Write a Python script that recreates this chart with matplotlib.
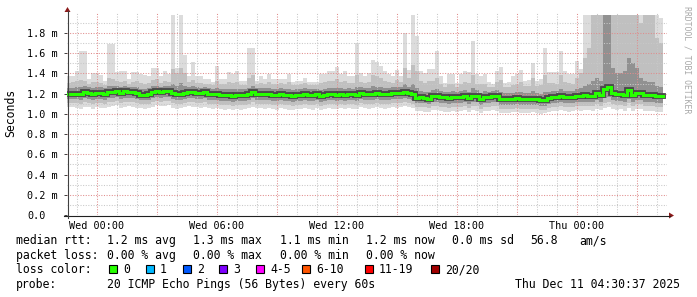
import numpy as np
import matplotlib
matplotlib.use('Agg')
import matplotlib.pyplot as plt
from matplotlib.patches import Rectangle, Polygon
from matplotlib.transforms import Affine2D

W, H = 697, 297
MONO = 'DejaVu Sans Mono'

# 12-minute bins starting Tue 22:30 (hours relative to Wed 00:00)
t_start = -1.5
t_step = 0.2

rtt_median = [
    1.20, 1.20, 1.20, 1.20, 1.22, 1.21, 1.20, 1.21, 1.21, 1.20,
    1.22, 1.22, 1.23, 1.21, 1.23, 1.22, 1.22, 1.21, 1.19, 1.19,
    1.20, 1.22, 1.23, 1.22, 1.23, 1.23, 1.21, 1.20, 1.20, 1.21,
    1.22, 1.22, 1.21, 1.21, 1.22, 1.20, 1.20, 1.20, 1.19, 1.19,
    1.19, 1.18, 1.19, 1.19, 1.19, 1.20, 1.22, 1.20, 1.20, 1.20,
    1.20, 1.19, 1.19, 1.20, 1.19, 1.19, 1.18, 1.19, 1.19, 1.20,
    1.19, 1.19, 1.20, 1.18, 1.19, 1.20, 1.20, 1.19, 1.20, 1.19,
    1.20, 1.20, 1.19, 1.21, 1.20, 1.20, 1.20, 1.21, 1.20, 1.20,
    1.20, 1.21, 1.21, 1.21, 1.22, 1.21, 1.20, 1.16, 1.17, 1.16,
    1.15, 1.18, 1.18, 1.17, 1.17, 1.16, 1.17, 1.17, 1.17, 1.18,
    1.16, 1.18, 1.18, 1.15, 1.17, 1.17, 1.18, 1.18, 1.15, 1.15,
    1.15, 1.15, 1.16, 1.15, 1.15, 1.15, 1.15, 1.15, 1.14, 1.14,
    1.16, 1.17, 1.17, 1.18, 1.17, 1.17, 1.17, 1.18, 1.18, 1.19,
    1.18, 1.18, 1.21, 1.19, 1.25, 1.27, 1.21, 1.20, 1.20, 1.19,
    1.24, 1.19, 1.21, 1.21, 1.19, 1.19, 1.19, 1.18, 1.18,
]

rtt_max = [
    1.37, 1.37, 1.42, 1.62, 1.62, 1.35, 1.40, 1.40, 1.38, 1.33,
    1.69, 1.69, 1.41, 1.42, 1.42, 1.35, 1.41, 1.41, 1.39, 1.38,
    1.37, 1.45, 1.45, 1.37, 1.42, 1.39, 1.98, 1.45, 1.98, 1.58,
    1.37, 1.51, 1.37, 1.37, 1.35, 1.35, 1.32, 1.47, 1.35, 1.35,
    1.41, 1.39, 1.42, 1.33, 1.33, 1.65, 1.65, 1.33, 1.37, 1.35,
    1.39, 1.35, 1.35, 1.35, 1.35, 1.39, 1.32, 1.33, 1.33, 1.36,
    1.32, 1.32, 1.32, 1.39, 1.39, 1.42, 1.42, 1.46, 1.39, 1.42,
    1.37, 1.37, 1.70, 1.40, 1.37, 1.40, 1.53, 1.51, 1.47, 1.42,
    1.39, 1.37, 1.43, 1.37, 1.80, 1.43, 1.98, 1.77, 1.42, 1.40,
    1.44, 1.44, 1.62, 1.37, 1.31, 1.39, 1.39, 1.31, 1.39, 1.42,
    1.41, 1.72, 1.39, 1.37, 1.39, 1.32, 1.30, 1.42, 1.46, 1.31,
    1.32, 1.37, 1.39, 1.43, 1.33, 1.34, 1.50, 1.33, 1.35, 1.65,
    1.41, 1.41, 1.41, 1.62, 1.42, 1.39, 1.39, 1.52, 1.44, 1.98,
    1.98, 1.98, 1.98, 1.98, 1.98, 1.98, 1.98, 1.98, 1.98, 1.98,
    1.98, 1.98, 1.98, 1.98, 1.98, 1.98, 1.98, 1.98, 1.95,
]

rtt_hi2 = [
    1.31, 1.32, 1.33, 1.34, 1.33, 1.30, 1.32, 1.32, 1.31, 1.29,
    1.36, 1.35, 1.33, 1.32, 1.33, 1.30, 1.32, 1.33, 1.31, 1.30,
    1.31, 1.34, 1.35, 1.31, 1.33, 1.32, 1.44, 1.40, 1.45, 1.40,
    1.32, 1.34, 1.31, 1.31, 1.30, 1.30, 1.29, 1.33, 1.30, 1.30,
    1.32, 1.31, 1.32, 1.29, 1.29, 1.36, 1.38, 1.30, 1.31, 1.30,
    1.32, 1.30, 1.30, 1.31, 1.30, 1.32, 1.29, 1.29, 1.30, 1.31,
    1.29, 1.29, 1.29, 1.31, 1.32, 1.33, 1.33, 1.35, 1.32, 1.33,
    1.31, 1.31, 1.38, 1.32, 1.31, 1.32, 1.38, 1.37, 1.36, 1.33,
    1.32, 1.31, 1.34, 1.32, 1.45, 1.36, 1.48, 1.42, 1.33, 1.31,
    1.33, 1.33, 1.36, 1.30, 1.27, 1.30, 1.30, 1.27, 1.30, 1.32,
    1.31, 1.38, 1.30, 1.30, 1.30, 1.27, 1.27, 1.32, 1.34, 1.27,
    1.27, 1.29, 1.30, 1.32, 1.28, 1.28, 1.36, 1.28, 1.29, 1.38,
    1.31, 1.31, 1.30, 1.38, 1.32, 1.31, 1.30, 1.36, 1.40, 1.55,
    1.65, 1.98, 1.98, 1.98, 1.98, 1.98, 1.98, 1.98, 1.98, 1.98,
    1.98, 1.98, 1.98, 1.90, 1.98, 1.98, 1.98, 1.75, 1.70,
]

rtt_hi1 = [
    1.26, 1.26, 1.27, 1.27, 1.28, 1.27, 1.26, 1.27, 1.27, 1.26,
    1.28, 1.28, 1.28, 1.27, 1.28, 1.27, 1.27, 1.27, 1.25, 1.25,
    1.26, 1.28, 1.28, 1.27, 1.28, 1.28, 1.30, 1.28, 1.31, 1.28,
    1.27, 1.28, 1.27, 1.26, 1.27, 1.26, 1.25, 1.26, 1.25, 1.25,
    1.25, 1.25, 1.25, 1.25, 1.25, 1.26, 1.28, 1.26, 1.26, 1.26,
    1.26, 1.25, 1.25, 1.26, 1.25, 1.25, 1.24, 1.25, 1.25, 1.26,
    1.25, 1.25, 1.25, 1.24, 1.25, 1.26, 1.26, 1.26, 1.26, 1.25,
    1.26, 1.25, 1.27, 1.27, 1.26, 1.26, 1.28, 1.27, 1.27, 1.26,
    1.26, 1.27, 1.27, 1.27, 1.30, 1.27, 1.30, 1.26, 1.23, 1.22,
    1.22, 1.24, 1.25, 1.23, 1.22, 1.22, 1.23, 1.22, 1.23, 1.24,
    1.22, 1.26, 1.24, 1.21, 1.23, 1.22, 1.23, 1.24, 1.22, 1.21,
    1.21, 1.21, 1.22, 1.22, 1.21, 1.21, 1.23, 1.21, 1.20, 1.22,
    1.22, 1.23, 1.23, 1.25, 1.23, 1.23, 1.23, 1.25, 1.26, 1.28,
    1.30, 1.33, 1.36, 1.33, 1.98, 1.98, 1.45, 1.40, 1.40, 1.42,
    1.55, 1.50, 1.45, 1.36, 1.33, 1.32, 1.32, 1.28, 1.27,
]

rtt_lo1 = [
    1.15, 1.15, 1.15, 1.14, 1.16, 1.15, 1.14, 1.15, 1.15, 1.14,
    1.16, 1.16, 1.17, 1.15, 1.16, 1.16, 1.16, 1.15, 1.14, 1.14,
    1.14, 1.16, 1.17, 1.16, 1.17, 1.17, 1.15, 1.14, 1.14, 1.15,
    1.16, 1.16, 1.15, 1.15, 1.16, 1.14, 1.14, 1.14, 1.13, 1.13,
    1.13, 1.12, 1.13, 1.13, 1.13, 1.14, 1.16, 1.14, 1.14, 1.14,
    1.14, 1.13, 1.13, 1.14, 1.13, 1.13, 1.12, 1.13, 1.13, 1.14,
    1.13, 1.13, 1.14, 1.12, 1.13, 1.14, 1.14, 1.13, 1.14, 1.13,
    1.14, 1.14, 1.13, 1.15, 1.14, 1.14, 1.14, 1.15, 1.14, 1.14,
    1.14, 1.15, 1.15, 1.15, 1.16, 1.15, 1.14, 1.11, 1.11, 1.11,
    1.10, 1.12, 1.12, 1.11, 1.11, 1.10, 1.11, 1.11, 1.11, 1.12,
    1.10, 1.12, 1.12, 1.09, 1.11, 1.11, 1.12, 1.12, 1.09, 1.09,
    1.09, 1.09, 1.10, 1.09, 1.09, 1.09, 1.09, 1.09, 1.08, 1.08,
    1.10, 1.11, 1.11, 1.12, 1.11, 1.11, 1.11, 1.12, 1.12, 1.12,
    1.12, 1.12, 1.14, 1.12, 1.16, 1.17, 1.14, 1.13, 1.13, 1.12,
    1.15, 1.12, 1.14, 1.14, 1.12, 1.12, 1.12, 1.11, 1.11,
]

rtt_lo2 = [
    1.11, 1.11, 1.11, 1.10, 1.12, 1.11, 1.10, 1.11, 1.11, 1.10,
    1.12, 1.12, 1.13, 1.11, 1.12, 1.12, 1.12, 1.11, 1.10, 1.10,
    1.10, 1.12, 1.13, 1.12, 1.13, 1.13, 1.11, 1.10, 1.10, 1.11,
    1.12, 1.12, 1.11, 1.11, 1.12, 1.10, 1.10, 1.10, 1.09, 1.09,
    1.09, 1.08, 1.09, 1.09, 1.09, 1.10, 1.12, 1.10, 1.10, 1.10,
    1.10, 1.09, 1.09, 1.10, 1.09, 1.09, 1.08, 1.09, 1.09, 1.10,
    1.09, 1.09, 1.10, 1.08, 1.09, 1.10, 1.10, 1.09, 1.10, 1.09,
    1.10, 1.10, 1.09, 1.11, 1.10, 1.10, 1.10, 1.11, 1.10, 1.10,
    1.10, 1.11, 1.11, 1.11, 1.12, 1.11, 1.10, 1.07, 1.07, 1.07,
    1.06, 1.08, 1.08, 1.07, 1.07, 1.06, 1.07, 1.07, 1.07, 1.08,
    1.06, 1.08, 1.08, 1.05, 1.07, 1.07, 1.08, 1.08, 1.05, 1.05,
    1.05, 1.05, 1.06, 1.05, 1.05, 1.05, 1.05, 1.05, 1.04, 1.04,
    1.06, 1.07, 1.07, 1.08, 1.07, 1.07, 1.07, 1.08, 1.08, 1.08,
    1.08, 1.08, 1.10, 1.08, 1.11, 1.12, 1.10, 1.09, 1.09, 1.08,
    1.11, 1.08, 1.10, 1.10, 1.08, 1.08, 1.08, 1.07, 1.07,
]

rtt_min = [
    1.07, 1.07, 1.06, 1.05, 1.07, 1.07, 1.05, 1.07, 1.06, 1.06,
    1.07, 1.08, 1.09, 1.06, 1.07, 1.08, 1.07, 1.06, 1.06, 1.05,
    1.06, 1.07, 1.09, 1.08, 1.08, 1.09, 1.06, 1.05, 1.06, 1.07,
    1.08, 1.07, 1.07, 1.06, 1.07, 1.06, 1.05, 1.06, 1.05, 1.04,
    1.05, 1.04, 1.05, 1.04, 1.05, 1.06, 1.07, 1.06, 1.06, 1.05,
    1.06, 1.05, 1.04, 1.06, 1.05, 1.04, 1.04, 1.05, 1.05, 1.06,
    1.05, 1.04, 1.06, 1.04, 1.05, 1.06, 1.05, 1.05, 1.06, 1.05,
    1.06, 1.05, 1.05, 1.07, 1.06, 1.05, 1.06, 1.07, 1.06, 1.05,
    1.06, 1.07, 1.06, 1.07, 1.08, 1.07, 1.06, 1.03, 1.03, 1.02,
    1.02, 1.04, 1.04, 1.03, 1.02, 1.02, 1.03, 1.02, 1.03, 1.04,
    1.02, 1.04, 1.03, 1.01, 1.03, 1.03, 1.04, 1.03, 1.01, 1.01,
    1.01, 1.02, 1.02, 1.01, 1.01, 1.01, 1.02, 1.01, 1.00, 1.01,
    1.02, 1.03, 1.03, 1.04, 1.03, 1.02, 1.03, 1.04, 1.03, 1.04,
    1.04, 1.03, 1.05, 1.04, 1.06, 1.07, 1.05, 1.04, 1.05, 1.03,
    1.06, 1.03, 1.05, 1.05, 1.03, 1.03, 1.03, 1.02, 1.02,
]

tick_hours = [0, 6, 12, 18, 24]
tick_labels = ['Wed 00:00', 'Wed 06:00', 'Wed 12:00', 'Wed 18:00', 'Thu 00:00']
y_ticks = [0.0, 0.2, 0.4, 0.6, 0.8, 1.0, 1.2, 1.4, 1.6, 1.8]
y_labels = ['0.0', '0.2 m', '0.4 m', '0.6 m', '0.8 m', '1.0 m', '1.2 m', '1.4 m', '1.6 m', '1.8 m']

loss_labels = ['0', '1', '2', '3', '4-5', '6-10', '11-19', '20/20']
loss_colors = ['#26ff00', '#00b8ff', '#0059ff', '#7e00ff', '#ff00ff', '#ff5500', '#ff0000', '#a10000']

rtt_row = [('median rtt:', 16), ('1.2 ms avg', 107), ('1.3 ms max', 193), ('1.1 ms min', 280),
           ('1.2 ms now', 366), ('0.0 ms sd', 452), ('56.8', 530), ('am/s', 579)]
loss_row = [('packet loss:', 16), ('0.00 % avg', 107), ('0.00 % max', 193), ('0.00 % min', 280),
            ('0.00 % now', 366)]
probe_text = '20 ICMP Echo Pings (56 Bytes) every 60s'
stamp_text = 'Thu Dec 11 04:30:37 2025'


def ext(a):
    a = np.asarray(a, dtype=float)
    return np.append(a, a[-1])


n = len(rtt_median)
edges = t_start + t_step * np.arange(n + 1)

fig = plt.figure(figsize=(W / 100, H / 100), dpi=100)
fig.patch.set_facecolor('white')
# pixel coordinates with origin top-left
px = Affine2D().scale(1 / W, -1 / H).translate(0, 1) + fig.transFigure

ax = fig.add_axes([67 / W, 1 - 215 / H, 600 / W, 202.2 / H])
ax.set_xlim(-1.5, 28.5)
ax.set_ylim(0, 2.0)
ax.set_facecolor('white')
for s in ax.spines.values():
    s.set_visible(False)

# smoke
ax.fill_between(edges, ext(rtt_min), ext(rtt_max), step='post', color='#dcdcdc', lw=0, zorder=1)
ax.fill_between(edges, ext(rtt_lo2), ext(rtt_hi2), step='post', color='#c0c0c0', lw=0, zorder=1)
ax.fill_between(edges, ext(rtt_lo1), ext(rtt_hi1), step='post', color='#919191', lw=0, zorder=1)

# grid
dots = (0, (1, 1.5))
for h in range(-1, 29):
    if h % 3 == 0:
        ax.axvline(h, color='#e08c8c', lw=0.75, ls=dots, zorder=2)
    else:
        ax.axvline(h, color='#c8c8c8', lw=0.75, ls=dots, zorder=2)
for k in range(1, 20):
    v = k / 10
    if k % 2 == 0:
        ax.axhline(v, color='#e08c8c', lw=0.75, ls=dots, zorder=2)
    else:
        ax.axhline(v, color='#c8c8c8', lw=0.75, ls=dots, zorder=2)

# median line
ax.step(edges, ext(rtt_median), where='post', color='#4a4a4a', lw=4.2, zorder=3, solid_joinstyle='miter')
ax.step(edges, ext(rtt_median), where='post', color='#26ff00', lw=2.2, zorder=4, solid_joinstyle='miter')

# ticks
ax.set_xticks(tick_hours, tick_labels)
ax.tick_params(axis='x', length=0, pad=4, labelsize=7.3)
ax.set_yticks(y_ticks, y_labels)
ax.tick_params(axis='y', length=2.2, width=0.7, color='#404040', pad=26.6, labelsize=7.3)
for lbl in ax.get_yticklabels() + ax.get_xticklabels():
    lbl.set_fontfamily(MONO)
for lbl in ax.get_yticklabels():
    lbl.set_ha('left')

# axes with arrows
fig.add_artist(plt.Line2D([64, 670], [215.5, 215.5], transform=px, color='#202020', lw=0.8))
fig.add_artist(plt.Line2D([67.5, 67.5], [218, 11], transform=px, color='#404040', lw=0.8))
fig.add_artist(Polygon([[64.5, 12], [70.5, 12], [67.5, 7]], closed=True, transform=px,
                       color='#8b1a1a', lw=0))
fig.add_artist(Polygon([[669, 212.5], [669, 218.5], [674, 215.5]], closed=True, transform=px,
                       color='#8b1a1a', lw=0))

# labels
fig.text(11 / W, 1 - 113 / H, 'Seconds', rotation=90, ha='center', va='center',
         family=MONO, fontsize=8.3)
fig.text(687 / W, 1 - 60 / H, 'RRDTOOL / TOBI OETIKER', rotation=270, ha='center', va='center',
         family=MONO, fontsize=5.9, color='#a8a8a8')

fs = 8.3
for txt, x in rtt_row:
    fig.text(x, 244, txt, transform=px, family=MONO, fontsize=fs, va='baseline')
for txt, x in loss_row:
    fig.text(x, 258.7, txt, transform=px, family=MONO, fontsize=fs, va='baseline')
fig.text(16, 273.3, 'loss color:', transform=px, family=MONO, fontsize=fs, va='baseline')
sw_x = [109, 146, 183, 219, 256, 302, 365, 431]
for lab, col, x in zip(loss_labels, loss_colors, sw_x):
    fig.add_artist(Rectangle((x, 272.5), 8, -8, transform=px, facecolor=col,
                             edgecolor='black', lw=0.8))
    fig.text(x + 14, 273.3, lab, transform=px, family=MONO, fontsize=fs, va='baseline')
fig.text(16, 288, 'probe:', transform=px, family=MONO, fontsize=fs, va='baseline')
fig.text(107, 288, probe_text, transform=px, family=MONO, fontsize=fs, va='baseline')
fig.text(680, 288, stamp_text, transform=px, family=MONO, fontsize=fs, va='baseline', ha='right')

fig.savefig('out.png', dpi=100)
